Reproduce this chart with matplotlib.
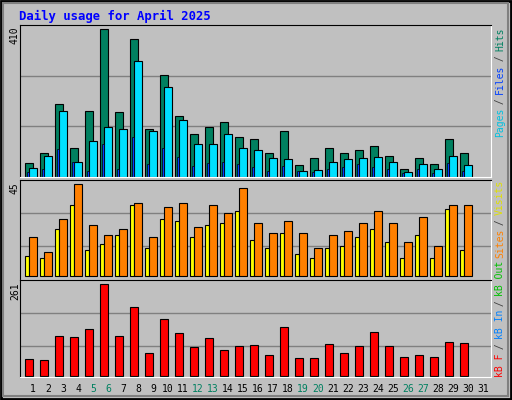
import matplotlib.pyplot as plt
import numpy as np

days = np.arange(1, 32)
weekend = [5, 6, 12, 13, 19, 20, 26, 27]

hits = [38, 68, 202, 80, 182, 410, 180, 382, 132, 282, 168, 118, 138, 152, 110,
        105, 66, 127, 32, 52, 80, 66, 74, 85, 57, 21, 52, 35, 105, 66, 0]
pages = [24, 57, 182, 41, 99, 138, 132, 321, 127, 249, 157, 93, 93, 118, 80,
         74, 52, 49, 16, 19, 41, 49, 52, 55, 41, 13, 35, 21, 57, 32, 0]
files = [13, 21, 77, 41, 16, 91, 21, 110, 35, 80, 55, 30, 38, 43, 35,
         27, 16, 30, 16, 13, 21, 27, 35, 27, 21, 10, 21, 10, 38, 16, 0]
visits = [19, 12, 28, 45, 25, 20, 23, 36, 19, 34, 36, 24, 35, 31, 43,
          26, 21, 27, 21, 14, 20, 22, 26, 32, 26, 17, 29, 15, 35, 35, 0]
sites = [10, 9, 23, 35, 13, 16, 20, 35, 14, 28, 27, 19, 25, 26, 32,
         18, 14, 21, 11, 9, 14, 15, 19, 23, 17, 9, 20, 9, 33, 13, 0]
kbytes = [47, 44, 112, 110, 132, 261, 112, 195, 64, 161, 121, 81, 107, 72, 84,
          87, 58, 138, 50, 50, 90, 64, 84, 124, 84, 52, 58, 52, 95, 92, 0]

W, H = 512, 400
fig = plt.figure(figsize=(5.12, 4.0), dpi=100)
fig.patch.set_facecolor('#C0C0C0')
mono = 'DejaVu Sans Mono'


def px_axes(x0, y0, x1, y1):
    return fig.add_axes([x0 / W, 1 - y1 / H, (x1 - x0) / W, (y1 - y0) / H])


# outer frame
fig.add_artist(plt.Rectangle((1 / W, 1 / H), 1 - 2 / W, 1 - 2 / H, transform=fig.transFigure,
                             fill=False, edgecolor='black', lw=2))
fig.add_artist(plt.Rectangle((3 / W, 4 / H), 1 - 7 / W, 1 - 7 / H, transform=fig.transFigure,
                             fill=False, edgecolor='#808080', lw=1.5))

xlim = (0.267, 31.67)
dd = 1 / 15.0  # one pixel in day units


def style(ax, ylim, grids):
    ax.set_facecolor('#C0C0C0')
    ax.set_xlim(*xlim)
    ax.set_ylim(*ylim)
    ax.set_xticks([])
    ax.set_yticks([])
    for g in grids:
        ax.axhline(g, color='#808080', lw=1, zorder=0)
    ax.spines['left'].set_color('black')
    ax.spines['top'].set_color('black')
    ax.spines['right'].set_color('white')
    ax.spines['bottom'].set_color('white')


def bars(ax, vals, off, width, color, lw=0.8):
    vals = np.array(vals)
    m = vals > 0
    ax.bar(days[m] + off * dd, vals[m], width=width * dd, align='edge',
           color=color, edgecolor='black', lw=lw)


ax1 = px_axes(20, 25, 491, 177)
style(ax1, (0, 422), [142, 280])
bars(ax1, hits, -6, 8, '#008060')
bars(ax1, pages, -2, 8, '#00E0FF')
bars(ax1, files, -4, 2, '#0040FF', 0.5)

ax2 = px_axes(20, 180, 491, 280)
style(ax2, (-1.8, 47.1), [14.8, 31])
bars(ax2, sites, -6, 4, '#FFFF00')
bars(ax2, visits, -2, 8, '#FF8000')

ax3 = px_axes(20, 280, 491, 377)
style(ax3, (-3.7, 273.3), [85, 179])
bars(ax3, kbytes, -6, 8, '#FF0000')

# day labels
for d in days:
    fig.text((31 + (d - 1) * 15 + 2) / W, 1 - 389 / H, str(d), ha='center', va='center',
             fontsize=7, family=mono, color='#008060' if d in weekend else 'black')

fig.text(19 / W, 1 - 16 / H, 'Daily usage for April 2025', fontsize=8.8, family=mono,
         fontweight='bold', color='#0000FF', va='center')

for label, ytop in [('410', 26), ('45', 182), ('261', 282)]:
    fig.text(15 / W, 1 - ytop / H, label, rotation=90, ha='center', va='top',
             fontsize=7, family=mono)

cw = 5.4


def side(parts, ybottom):
    y = ybottom
    for txt, col in parts:
        fig.text(500 / W, 1 - y / H, txt, rotation=90, ha='center', va='bottom',
                 fontsize=7, family=mono, color=col)
        y -= cw * len(txt)


side([('Pages', '#00C0E0'), (' / ', '#404040'), ('Files', '#0040FF'), (' / ', '#404040'),
      ('Hits', '#008060')], 137)
side([('kB F', '#FF0000'), (' / ', '#404040'), ('kB In', '#0080FF'), (' / ', '#404040'),
      ('kB Out', '#00C000'), (' ', 'black'), ('Sites', '#FF8000'), (' / ', '#404040'),
      ('Visits', '#E0E000')], 377)

fig.savefig('out.png', dpi=100, facecolor=fig.get_facecolor())
